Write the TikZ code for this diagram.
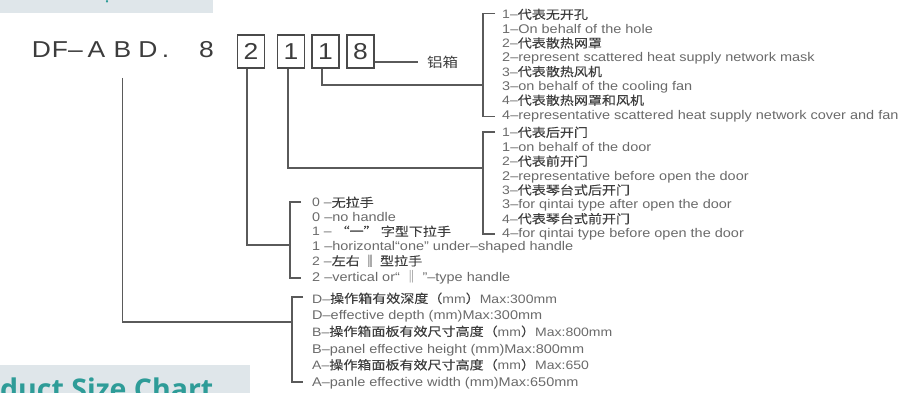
\documentclass[tikz,border=0pt]{standalone}
\usepackage{fontspec}
\setmainfont{Liberation Sans}[FakeStretch=1.15]
\newfontfamily\enfont{Liberation Sans}[FakeStretch=1.15]
\newfontfamily\zhfont{Noto Sans CJK SC}[FakeStretch=1.15,FakeBold=0.2]
\newfontfamily\zhplain{Noto Sans CJK SC}[FakeStretch=1.15]
\newfontfamily\bannerfont{Open Sans}
\newcommand\latpart[1]{{\enfont\color{engray}#1}}
\definecolor{lineg}{HTML}{5A5A5A}
\definecolor{boxg}{HTML}{4A4A4A}
\definecolor{engray}{HTML}{6A6A6A}
\definecolor{zhgray}{HTML}{3E3E3E}
\definecolor{titlegray}{HTML}{3C3C3C}
\definecolor{bannerbg}{HTML}{DFE6EA}
\definecolor{tealc}{HTML}{2E9C98}
\tikzset{
  ln/.style={draw=lineg, line width=1.3pt},
  entext/.style={anchor=base west, inner sep=0pt, text=engray, font=\enfont\fontsize{12.6}{14}\selectfont},
  zhtext/.style={anchor=base west, inner sep=0pt, text=zhgray, font=\zhfont\fontsize{12.2}{14}\selectfont},
  ttl/.style={anchor=base, inner sep=0pt, text=titlegray, font=\enfont\fontsize{23}{26}\selectfont},
  digbox/.style={draw=boxg, line width=1.1pt, minimum width=27pt, minimum height=33pt, inner sep=0pt, text=titlegray, font=\enfont\fontsize{23}{26}\selectfont},
}
\begin{document}
\begin{tikzpicture}[x=1pt,y=-1pt]
\useasboundingbox (0,0) rectangle (922,393);
% banners
\fill[bannerbg] (0,0) rectangle (213,13);
\fill[tealc] (107,1.2) ellipse (1.2 and 1.6);
\fill[bannerbg] (0,365) rectangle (250,393);
\begin{scope}
\clip (0,0) rectangle (922,393);
\node[anchor=base west, inner sep=0pt, text=tealc, font=\bannerfont\bfseries\fontsize{28.5}{30}\selectfont] (banner) at (0,399.5) {duct Size Chart};
\end{scope}
% title letters
\node[ttl] (tD1) at (41.5,58) {D};
\node[ttl] (tF) at (60,58) {F};
\node[ttl] (tdash) at (75.5,58) {–};
\node[ttl] (tA) at (96.5,58) {A};
\node[ttl] (tB) at (122.5,58) {B};
\node[ttl] (tD2) at (148,58) {D};
\node[ttl] (tdot) at (165.5,58) {.};
\node[ttl] (t8) at (206.5,58) {8};
% digit boxes
\node[digbox] (bx2) at (251,51.5) {2};
\node[digbox] (bx1a) at (291,51.5) {1};
\node[digbox] (bx1b) at (325.5,51.5) {1};
\node[digbox] (bx8) at (360.5,51.5) {8};
% label
\node[anchor=west, inner xsep=9pt, inner ysep=0pt, text=zhgray, font=\zhplain\fontsize{13.5}{14}\selectfont] (lbl) at (418,62) {铝箱};
\draw[ln] ([yshift=-10.5pt]bx8.east) -- (lbl.west);
% bracket junction coordinates
\coordinate (br1) at (483,85);
\coordinate (br2) at (483,168);
\coordinate (br3) at (290,245);
\coordinate (br4) at (292,322);
% connectors
\draw[ln] ([xshift=-3.5pt]bx1b.south) |- (br1);
\draw[ln] ([xshift=-3pt]bx1a.south) |- (br2);
\draw[ln] ([xshift=-4pt]bx2.south) |- (br3);
\draw[ln] ([yshift=-20pt]tB.base) |- (br4);
% brackets
\draw[ln] (495,13.5) -- (483,13.5) -- (483,116.5) -- (495,116.5);
\draw[ln] (495,132) -- (483,132) -- (483,234) -- (495,234);
\draw[ln] (301,202) -- (290,202) -- (290,278) -- (301,278);
\draw[ln] (303,297) -- (292,297) -- (292,382) -- (303,382);
% bracket 1 texts
\node[zhtext] (a1) at (502,19) {\latpart{1–}代表无开孔};
\node[entext] (a2) at (502,33.3) {1–On behalf of the hole};
\node[zhtext] (a3) at (502,47.6) {\latpart{2–}代表散热网罩};
\node[entext] (a4) at (502,61.9) {2–represent scattered heat supply network mask};
\node[zhtext] (a5) at (502,76.2) {\latpart{3–}代表散热风机};
\node[entext] (a6) at (502,90.5) {3–on behalf of the cooling fan};
\node[zhtext] (a7) at (502,104.8) {\latpart{4–}代表散热网罩和风机};
\node[entext] (a8) at (502,119.1) {4–representative scattered heat supply network cover and fan};
% bracket 2 texts
\node[zhtext] (b1) at (502,137) {\latpart{1–}代表后开门};
\node[entext] (b2) at (502,151.4) {1–on behalf of the door};
\node[zhtext] (b3) at (502,165.8) {\latpart{2–}代表前开门};
\node[entext] (b4) at (502,180.2) {2–representative before open the door};
\node[zhtext] (b5) at (502,194.6) {\latpart{3–}代表琴台式后开门};
\node[entext] (b6) at (502,209) {3–for qintai type after open the door};
\node[zhtext] (b7) at (502,223.4) {\latpart{4–}代表琴台式前开门};
\node[entext] (b8) at (502,237.8) {4–for qintai type before open the door};
% bracket 3 texts
\node[zhtext] (c1) at (312,207) {\latpart{0 –}无拉手};
\node[entext] (c2) at (312,221.5) {0 –no handle};
\node[zhtext] (c3) at (312,236) {\latpart{1 – }“一” 字型下拉手};
\node[entext] (c4) at (312,250.5) {1 –horizontal“one” under–shaped handle};
\node[zhtext] (c5) at (312,265.5) {\latpart{2 –}左右 ‖ 型拉手};
\node[entext] (c6) at (312,281.5) {2 –vertical or“ {\zhplain ‖} ”–type handle};
% bracket 4 texts
\node[zhtext] (d1) at (312,303) {\latpart{D–}操作箱有效深度（\latpart{mm}）\latpart{Max:300mm}};
\node[entext] (d2) at (312,319.5) {D–effective depth (mm)Max:300mm};
\node[zhtext] (d3) at (312,336) {\latpart{B–}操作箱面板有效尺寸高度（\latpart{mm}）\latpart{Max:800mm}};
\node[entext] (d4) at (312,353) {B–panel effective height (mm)Max:800mm};
\node[zhtext] (d5) at (312,369.5) {\latpart{A–}操作箱面板有效尺寸高度（\latpart{mm}）\latpart{Max:650}};
\node[entext] (d6) at (312,386) {A–panle effective width (mm)Max:650mm};
\end{tikzpicture}
\end{document}
